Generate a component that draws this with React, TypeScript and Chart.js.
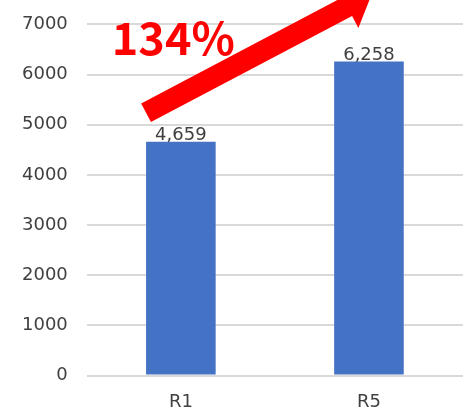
import React, { useEffect, useRef } from "react";
import { Chart, registerables } from "chart.js";

Chart.register(...registerables);

const categories = ["R1", "R5"];
const values = [4659, 6258];
const yMax = 7000;
const yStep = 1000;

const FONT = "'DejaVu Sans', 'Noto Sans', sans-serif";
const TITLE_FONT = "'Noto Sans CJK JP', 'Noto Sans', sans-serif";
const TEXT = "#404040";

const dataLabelPlugin = {
  id: "dataLabels",
  afterDatasetsDraw(chart: any) {
    const ctx = chart.ctx;
    const meta = chart.getDatasetMeta(0);
    ctx.save();
    ctx.font = `18px ${FONT}`;
    ctx.fillStyle = TEXT;
    ctx.textAlign = "center";
    ctx.textBaseline = "alphabetic";
    meta.data.forEach((bar: any, i: number) => {
      ctx.fillText(values[i].toLocaleString("en-US"), bar.x, bar.y - 2);
    });
    ctx.restore();
  },
};

const arrowPlugin = {
  id: "growthArrow",
  afterDatasetsDraw(chart: any) {
    const ctx = chart.ctx;
    const meta = chart.getDatasetMeta(0);
    const b0 = meta.data[0];
    const b1 = meta.data[1];
    const sx = b0.x - b0.width / 2;
    const sy = b0.y - 29;
    const tx = b1.x + 3;
    const ty = b1.y - 68;
    const dx = tx - sx;
    const dy = ty - sy;
    const len = Math.hypot(dx, dy);
    const ux = dx / len;
    const uy = dy / len;
    const nx = -uy;
    const ny = ux;
    const hw = 10.5;
    const headW = 24;
    const headL = 28;
    const hx = tx - ux * headL;
    const hy = ty - uy * headL;
    ctx.save();
    ctx.fillStyle = "#ff0000";
    ctx.beginPath();
    ctx.moveTo(sx + nx * hw, sy + ny * hw);
    ctx.lineTo(hx + nx * hw, hy + ny * hw);
    ctx.lineTo(hx + nx * headW, hy + ny * headW);
    ctx.lineTo(tx, ty);
    ctx.lineTo(hx - nx * headW, hy - ny * headW);
    ctx.lineTo(hx - nx * hw, hy - ny * hw);
    ctx.lineTo(sx - nx * hw, sy - ny * hw);
    ctx.closePath();
    ctx.fill();

    const pct = Math.round((values[1] / values[0]) * 100) + "%";
    ctx.font = `bold 45px ${TITLE_FONT}`;
    ctx.textAlign = "left";
    ctx.textBaseline = "alphabetic";
    ctx.fillText(pct, chart.chartArea.left + 25, chart.scales.y.getPixelForValue(yMax) + 31);
    ctx.restore();
  },
};

export default function App() {
  const ref = useRef<HTMLCanvasElement | null>(null);
  useEffect(() => {
    document.body.style.margin = "0";
    const canvas = ref.current!;
    const chart = new Chart(canvas, {
      type: "bar",
      data: {
        labels: categories,
        datasets: [
          {
            data: values,
            backgroundColor: "#4472C4",
            barPercentage: 0.37,
            categoryPercentage: 1,
          },
        ],
      },
      options: {
        animation: false,
        responsive: false,
        devicePixelRatio: 1,
        layout: { padding: { left: 3, top: 0, right: 0, bottom: 0 } },
        plugins: { legend: { display: false }, tooltip: { enabled: false } },
        scales: {
          x: {
            grid: { display: false, drawTicks: false },
            border: { display: false },
            ticks: { font: { family: FONT, size: 18 }, color: TEXT, padding: 16 },
            afterFit: (scale: any) => {
              scale.height = 35.5;
            },
          },
          y: {
            min: 0,
            max: yMax,
            ticks: {
              stepSize: yStep,
              font: { family: FONT, size: 18, lineHeight: 0.6 },
              color: TEXT,
              padding: 19,
              callback: (v: any) => String(v),
            },
            grid: { color: "#d9d9d9", lineWidth: 2, drawTicks: false },
            border: { display: false },
          },
        },
      },
      plugins: [dataLabelPlugin, arrowPlugin],
    });
    return () => chart.destroy();
  }, []);
  return <canvas ref={ref} width={463} height={411} style={{ display: "block" }} />;
}
